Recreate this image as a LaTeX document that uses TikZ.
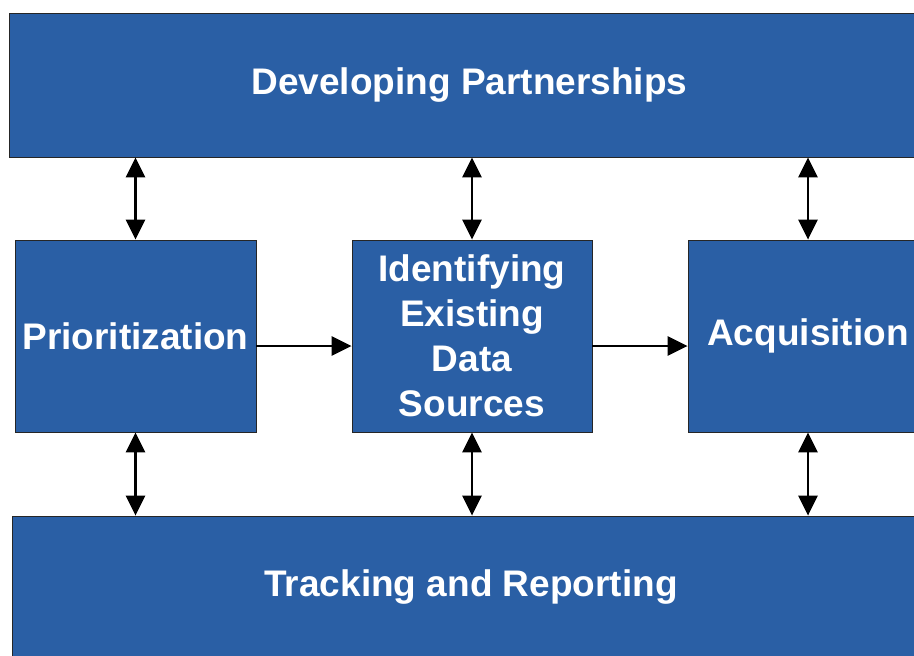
\documentclass[tikz,border=0pt]{standalone}
\usepackage{fontspec}
\setmainfont{Liberation Sans}
\usetikzlibrary{positioning,arrows.meta}
\definecolor{boxblue}{RGB}{42,95,165}

\begin{document}
\begin{tikzpicture}[x=1pt,y=-1pt,
    block/.style={draw=black!85, line width=0.8pt, fill=boxblue, text=white,
        inner sep=0pt, align=center,
        font=\fontsize{37}{45}\selectfont\bfseries},
    link/.style={line width=2.6pt, -{Triangle[length=20pt,width=19pt]}},
    bilink/.style={line width=2.6pt, {Triangle[length=20pt,width=19pt]}-{Triangle[length=20pt,width=19pt]}}]
    \useasboundingbox (0,0) rectangle (914,656);
    \clip (0,0) rectangle (914,656);

    % Top and bottom bands
    \node[block, minimum width=920pt, minimum height=144pt] (dp) at (469.5,85) {Developing Partnerships};
    \node[block, minimum width=918pt, minimum height=142pt] (tr) at (471,587) {Tracking and Reporting};

    % Middle row
    \node[block, minimum width=241pt, minimum height=192pt] (pr) at (135.5,336) {Prioritization};
    \node[block, minimum width=240pt, minimum height=192pt] (id) at (472,336) {Identifying\\Existing\\Data\\Sources};
    \node[block, minimum width=240pt, minimum height=192pt] (aq) at (808,336) {Acquisition};

    % Flow
    \draw[link] ([yshift=-10pt]pr.east) -- ([yshift=-10pt]id.west);
    \draw[link] ([yshift=-10pt]id.east) -- ([yshift=-10pt]aq.west);

    % Links to the bands
    \foreach \n in {pr,id,aq}{
        \draw[bilink] (\n.north) -- (\n.north |- dp.south);
        \draw[bilink] (\n.south) -- (\n.south |- tr.north);
    }
\end{tikzpicture}
\end{document}
